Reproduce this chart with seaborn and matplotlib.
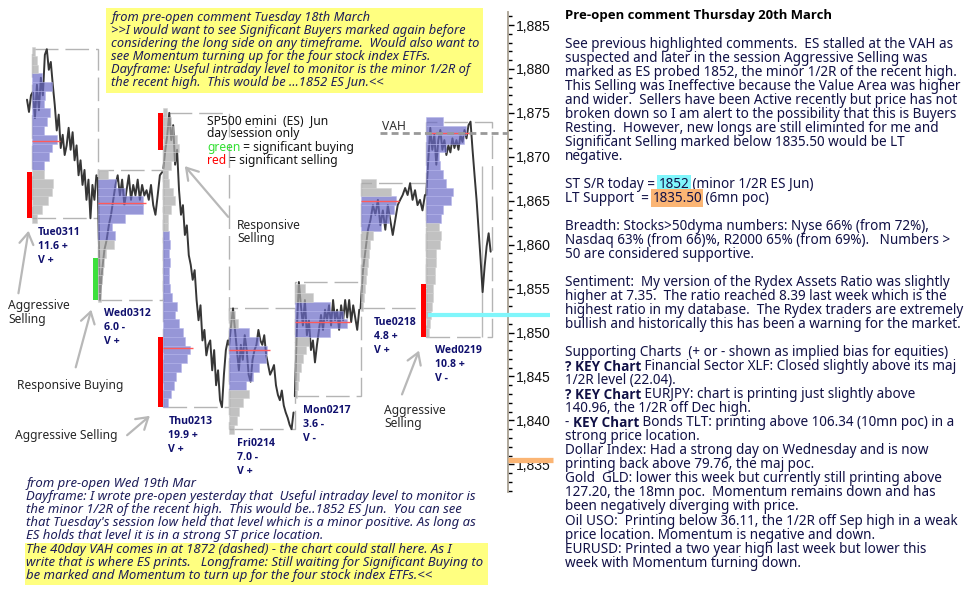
import numpy as np
import pandas as pd
import matplotlib
matplotlib.use("Agg")
import matplotlib.pyplot as plt
import seaborn as sns
from matplotlib import font_manager as fm
from matplotlib.font_manager import FontProperties
from matplotlib.patches import Rectangle, FancyArrowPatch
from matplotlib.ticker import MultipleLocator, FuncFormatter

# ---------------------------------------------------------------- data
days = ["Tue0311", "Wed0312", "Thu0213", "Fri0214", "Mon0217", "Tue0218", "Wed0219"]
day_range_txt = ["11.6 +", "6.0 -", "19.9 +", "7.0 -", "3.6 -", "4.8 +", "10.8 +"]
day_vol_txt = ["V +", "V +", "V +", "V +", "V -", "V +", "V -"]
day_high = [1882.25, 1868.5, 1875.0, 1852.75, 1855.75, 1867.0, 1874.0]
day_low = [1863.0, 1853.75, 1841.5, 1839.0, 1842.75, 1852.75, 1849.5]
day_poc = [1871.75, 1864.75, 1848.25, 1848.0, 1851.25, 1865.0, 1872.75]
va_high = [1879, 1867, 1861, 1850, 1853, 1865, 1874]
va_low = [1869, 1861, 1842, 1844, 1850, 1862, 1863]
profile_top = [1882, 1868, 1875, 1852, 1855, 1867, 1874]

# volume profile (TPO counts), from the top price bin downwards, 1 pt bins
prof_tue0311 = [3, 5, 6, 10, 20, 13, 12, 18, 15, 12, 25, 20, 17, 12, 12, 21, 20, 16, 10, 5]
prof_wed0312 = [10, 18, 27, 45, 45, 27, 14, 17, 16, 8, 6, 5, 4, 3, 3]
prof_thu0213 = [4, 8, 10, 14, 16, 12, 8, 5, 6, 10, 12, 8, 5, 5, 6, 7, 6, 7, 6, 6,
                7, 9, 14, 12, 16, 20, 22, 27, 24, 18, 13, 11, 8, 5]
prof_fri0214 = [6, 9, 20, 30, 38, 37, 30, 24, 17, 20, 14, 10, 8, 5]
prof_mon0217 = [10, 18, 35, 48, 52, 35, 14, 11, 8, 6, 4, 3, 2]
prof_tue0218 = [15, 30, 35, 33, 28, 20, 12, 9, 8, 7, 6, 5, 4, 3, 2]
prof_wed0219 = [17, 40, 38, 20, 13, 14, 17, 20, 27, 25, 17, 15, 13, 15, 14, 10, 10, 9, 9, 7,
                7, 6, 5, 4, 3]

# intraday ES price path per session (evenly spaced through the session)
tue0311_px = [1876.5, 1875.1, 1877.0, 1877.4, 1874.4, 1878.2, 1875.3, 1879.0, 1877.0, 1881.6,
              1882.25, 1879.9, 1880.8, 1878.2, 1875.9, 1873.0, 1874.8, 1871.0, 1872.5, 1870.2,
              1871.3, 1873.3, 1870.8, 1872.8, 1869.6, 1871.3, 1867.9, 1869.6, 1866.8, 1868.5,
              1865.1, 1867.4, 1863.0, 1866.8, 1865.1, 1867.9]
wed0312_px = [1867.6, 1853.75, 1857.1, 1859.4, 1860.5, 1862.2, 1863.4, 1865.1, 1866.8, 1867.9,
              1865.6, 1867.4, 1864.5, 1866.2, 1867.9, 1865.1, 1866.8, 1865.6, 1867.4, 1865.1,
              1866.8, 1865.6, 1866.2, 1865.1, 1866.8, 1864.5, 1863.4, 1865.6, 1867.9, 1868.25]
thu0213_px = [1868.7, 1870.8, 1872.5, 1875.0, 1871.9, 1873.6, 1869.1, 1870.8, 1866.2, 1863.4,
              1864.5, 1861.1, 1862.2, 1858.8, 1857.7, 1856.0, 1857.1, 1853.7, 1851.4, 1853.1,
              1849.1, 1850.3, 1847.4, 1848.6, 1849.1, 1845.7, 1848.0, 1844.0, 1845.7, 1842.3,
              1841.5, 1845.2, 1848.0, 1849.1]
fri0214_px = [1848.6, 1850.8, 1852.75, 1850.3, 1848.0, 1845.7, 1848.6, 1846.9, 1849.7, 1848.0,
              1845.2, 1844.4, 1846.9, 1848.0, 1848.6, 1850.3, 1849.1, 1848.6, 1849.7, 1847.4,
              1846.3, 1845.2, 1845.7, 1846.3, 1844.0, 1842.9, 1842.3, 1843.4, 1841.7, 1840.9,
              1840.3, 1839.5, 1839.0, 1840.9]
mon0217_px = [1842.75, 1850.3, 1855.75, 1853.1, 1850.8, 1853.7, 1849.7, 1851.4, 1848.0, 1849.1,
              1846.6, 1848.6, 1850.3, 1852.0, 1850.3, 1852.6, 1851.4, 1853.1, 1850.8, 1853.7,
              1851.4, 1852.6, 1850.3, 1853.1, 1851.4, 1853.7, 1851.7, 1853.7, 1851.2, 1853.1,
              1851.7, 1850.3, 1852.6]
tue0218_px = [1852.75, 1857.1, 1859.4, 1861.7, 1862.8, 1864.5, 1863.4, 1865.1, 1862.2, 1863.9,
              1861.7, 1864.5, 1862.8, 1861.1, 1862.8, 1864.5, 1865.1, 1865.65, 1866.45, 1865.65,
              1867.0, 1865.1, 1866.2, 1864.5, 1865.1, 1863.9, 1865.65]
wed0219_px = [1865.65, 1869.6, 1873.3, 1870.8, 1872.5, 1869.1, 1871.9, 1873.05, 1870.8, 1871.9,
              1870.2, 1871.3, 1870.5, 1872.1, 1871.0, 1871.9, 1870.8, 1872.5, 1871.7, 1873.05,
              1872.1, 1873.6, 1874.0, 1870.8, 1867.9, 1865.1, 1861.7, 1858.3, 1854.6, 1857.5,
              1859.8, 1861.3, 1859.2]

# significant buying / selling marks (session index, price range)
sig_day = [0, 1, 2, 2, 6]
sig_low = [1863.0, 1853.75, 1870.75, 1841.5, 1849.5]
sig_high = [1868.25, 1858.5, 1875.0, 1849.5, 1855.5]
sig_side = ["sell", "buy", "sell", "sell", "sell"]

# probe of the last session towards its low (time within session, top price)
wed0219_probe_t = 0.85
wed0219_probe_top = 1869.0

vah_40day = 1872.75
st_sr_level = 1852.0
lt_support = 1835.5
y_ticks = [1835, 1840, 1845, 1850, 1855, 1860, 1865, 1870, 1875, 1880, 1885]

# ---------------------------------------------------------------- fonts
sns.set_theme(style="white")
plt.rcParams["font.family"] = ["DejaVu Sans"]


def has_font(name, style="normal", bold=False):
    for f in fm.fontManager.ttflist:
        if f.name == name and f.style == style:
            w = f.weight if isinstance(f.weight, int) else (700 if "bold" in str(f.weight) else 400)
            if (w >= 600) == bold:
                return True
    return False


SANS = next((n for n in ["Noto Sans", "Open Sans", "DejaVu Sans"] if has_font(n)), "DejaVu Sans")
SANS_B = next((n for n in [SANS, "Noto Sans", "Open Sans", "DejaVu Sans"]
               if has_font(n, bold=True)), "DejaVu Sans")
ITAL = next((n for n in ["Noto Sans", "Open Sans", "Liberation Sans", "DejaVu Sans"]
             if has_font(n, "italic") or has_font(n, "oblique")), "DejaVu Sans")

# ---------------------------------------------------------------- figure
W, H = 976, 597
fig = plt.figure(figsize=(W / 100, H / 100), dpi=100)
fig.patch.set_facecolor("white")

PXD = 65.71                       # pixels per session on the chart
AX_R, AX_T, AX_B = 508, 12, 492
ax = fig.add_axes([0, 1 - AX_B / H, AX_R / W, (AX_B - AX_T) / H])
x_left = -32 / PXD
ax.set_xlim(x_left, x_left + AX_R / PXD)
ax.set_ylim(1831.85, 1886.48)
ax.set_facecolor("white")

BLUE, BLUE_EDGE = "#6a6ac6", "#b4b4ec"
GRAY, GRAY_EDGE = "#aaaaaa", "#d2d2d2"

# price paths
paths = [tue0311_px, wed0312_px, thu0213_px, fri0214_px, mon0217_px, tue0218_px, wed0219_px]
frames = []
for k, p in enumerate(paths):
    start = -0.076 if k == 0 else 0.0
    t = k + np.linspace(start, 0.98, len(p))
    frames.append(pd.DataFrame({"t": t, "price": p, "day": days[k]}))
price_df = pd.concat(frames, ignore_index=True)
sns.lineplot(data=price_df, x="t", y="price", units="day", estimator=None,
             color="#363636", linewidth=1.4, ax=ax, zorder=2, legend=False)

profiles = [prof_tue0311, prof_wed0312, prof_thu0213, prof_fri0214, prof_mon0217,
            prof_tue0218, prof_wed0219]
for k, vol in enumerate(profiles):
    vol = np.array(vol, dtype=float)
    prices = profile_top[k] - np.arange(len(vol))
    in_va = (prices >= va_low[k]) & (prices <= va_high[k])
    ax.barh(prices[in_va], vol[in_va] / PXD, left=k, height=1.0, color=BLUE,
            alpha=0.7, edgecolor=BLUE_EDGE, linewidth=0.5, zorder=3)
    ax.barh(prices[~in_va], vol[~in_va] / PXD, left=k, height=1.0, color=GRAY,
            alpha=0.72, edgecolor=GRAY_EDGE, linewidth=0.5, zorder=3)
    ax.hlines(day_poc[k], k, k + (vol.max() + 3) / PXD, color="#ff5a5a", linewidth=1.0, zorder=4)
    ax.add_patch(Rectangle((k, day_low[k]), 1.0, day_high[k] - day_low[k], fill=False,
                           edgecolor="#b4b4b4", linewidth=1.0, linestyle=(0, (17, 5)), zorder=1))

ax.vlines(6 + wed0219_probe_t, day_low[6], wed0219_probe_top, color="#b8b8b8",
          linewidth=1.0, zorder=1)

sig_colors = ["#ff0000" if s == "sell" else "#3de03d" for s in sig_side]
ax.bar(sig_day, np.array(sig_high) - np.array(sig_low), bottom=sig_low, width=-5 / PXD,
       align="edge", color=sig_colors, linewidth=0, zorder=4)

# reference levels
ax.plot([5.3, ax.get_xlim()[1]], [vah_40day, vah_40day], color="#999999", linewidth=2,
        linestyle=(0, (2.5, 1.5)), zorder=5)
ax.plot([6.02, (550 - 32) / PXD], [st_sr_level, st_sr_level], color="#80f6fb",
        linewidth=3, solid_capstyle="butt", clip_on=False, zorder=5)
ax.plot([ax.get_xlim()[1], (553 - 32) / PXD], [lt_support, lt_support], color="#fbb574",
        linewidth=3.8, solid_capstyle="butt", clip_on=False, zorder=5)

# axis
ax.set_xticks([])
ax.set_xlabel("")
ax.set_ylabel("")
ax.yaxis.tick_right()
ax.set_yticks(y_ticks)
ax.yaxis.set_minor_locator(MultipleLocator(1))
ax.yaxis.set_major_formatter(FuncFormatter(lambda v, _: f"{v:,.0f}"))
ax.tick_params(axis="y", which="major", direction="out", length=4.5, width=1,
               color="#000000", pad=1, labelcolor="#111111")
ax.tick_params(axis="y", which="minor", direction="out", length=3.2, width=1, color="#000000")
for s in ["top", "left", "bottom"]:
    ax.spines[s].set_visible(False)
ax.spines["right"].set_color("#a8a092")
ax.spines["right"].set_linewidth(1.3)
ax.grid(False)

# ---------------------------------------------------------------- text helpers
renderer = fig.canvas.get_renderer()


def tw(s, fp):
    a = renderer.get_text_width_height_descent(s + "|", fp, ismath=False)[0]
    b = renderer.get_text_width_height_descent("|", fp, ismath=False)[0]
    return a - b


def fit(s, target, family=None, **kw):
    fp = FontProperties(family=family or SANS, size=10, **kw)
    return 10.0 * target / tw(s, fp)


def put(x, y, segs, size, color="#000000", style="normal", weight="normal",
        family=None, zorder=6):
    cx = x
    for seg in segs:
        if isinstance(seg, str):
            seg = (seg, {})
        s, o = seg
        wgt = o.get("weight", weight)
        fam = family or (SANS_B if wgt == "bold" else SANS)
        fp = FontProperties(family=fam, size=size, style=o.get("style", style), weight=wgt)
        kw = {}
        if "bg" in o:
            kw["bbox"] = dict(boxstyle="square,pad=0.1", facecolor=o["bg"], edgecolor="none")
        fig.text(cx / W, 1 - y / H, s, fontproperties=fp, color=o.get("color", color),
                 ha="left", va="center", zorder=zorder, **kw)
        cx += tw(s, fp)


def fig_rect(x0, y0, x1, y1, color):
    fig.patches.append(Rectangle((x0 / W, 1 - y1 / H), (x1 - x0) / W, (y1 - y0) / H,
                                 transform=fig.transFigure, facecolor=color,
                                 edgecolor="none", zorder=2))


fs_tick = fit("1,885", 35, family="Liberation Sans")
for lbl in ax.get_yticklabels():
    lbl.set_fontfamily("Liberation Sans")
    lbl.set_fontsize(fs_tick)

# ---------------------------------------------------------------- right-hand commentary
RIGHT_C = "#111146"
fs_r = fit("See previous highlighted comments.  ES stalled at the VAH as", 388)
fs_title = fit("Pre-open comment Thursday 20th March", 268, family=SANS_B, weight="bold")
put(565, 16, ["Pre-open comment Thursday 20th March"], fs_title, color="#000000",
    weight="bold")

B = {"weight": "bold"}
right_lines = [
    ["See previous highlighted comments.  ES stalled at the VAH as"],
    ["suspected and later in the session Aggressive Selling was"],
    ["marked as ES probed 1852, the minor 1/2R of the recent high."],
    ["This Selling was Ineffective because the Value Area was higher"],
    ["and wider.  Sellers have been Active recently but price has not"],
    ["broken down so I am alert to the possibility that this is Buyers"],
    ["Resting.  However, new longs are still eliminted for me and"],
    ["Significant Selling marked below 1835.50 would be LT"],
    ["negative."],
    [],
    ["ST S/R today = ", ("1852", {"bg": "#80f6fb"}), " (minor 1/2R ES Jun)"],
    ["LT Support  = ", ("1835.50", {"bg": "#fbb574"}), " (6mn poc)"],
    [],
    ["Breadth: Stocks>50dyma numbers: Nyse 66% (from 72%),"],
    ["Nasdaq 63% (from 66)%, R2000 65% (from 69%).   Numbers >"],
    ["50 are considered supportive."],
    [],
    ["Sentiment:  My version of the Rydex Assets Ratio was slightly"],
    ["higher at 7.35.  The ratio reached 8.39 last week which is the"],
    ["highest ratio in my database.  The Rydex traders are extremely"],
    ["bullish and historically this has been a warning for the market."],
    [],
    ["Supporting Charts  (+ or - shown as implied bias for equities)"],
    [("? KEY Chart", B), " Financial Sector XLF: Closed slightly above its maj"],
    ["1/2R level (22.04)."],
    [("? KEY Chart", B), " EURJPY: chart is printing just slightly above"],
    ["140.96, the 1/2R off Dec high."],
    ["- ", ("KEY Chart", B), " Bonds TLT: printing above 106.34 (10mn poc) in a"],
    ["strong price location."],
    ["Dollar Index: Had a strong day on Wednesday and is now"],
    ["printing back above 79.76, the maj poc."],
    ["Gold  GLD: lower this week but currently still printing above"],
    ["127.20, the 18mn poc.  Momentum remains down and has"],
    ["been negatively diverging with price."],
    ["Oil USO:  Printing below 36.11, the 1/2R off Sep high in a weak"],
    ["price location. Momentum is negative and down."],
    ["EURUSD: Printed a two year high last week but lower this"],
    ["week with Momentum turning down."],
]
for i, segs in enumerate(right_lines):
    if segs:
        put(565, 44 + 14.03 * i, segs, fs_r, color=RIGHT_C)

# ---------------------------------------------------------------- italic notes
NOTE_C = "#1e1e5a"
top_note = [
    "from pre-open comment Tuesday 18th March",
    ">>I would want to see Significant Buyers marked again before",
    "considering the long side on any timeframe.  Would also want to",
    "see Momentum turning up for the four stock index ETFs.",
    "Dayframe: Useful intraday level to monitor is the minor 1/2R of",
    "the recent high.  This would be ...1852 ES Jun.<<",
]
bottom_note = [
    "from pre-open Wed 19th Mar",
    "Dayframe: I wrote pre-open yesterday that  Useful intraday level to monitor is",
    "the minor 1/2R of the recent high.  This would be..1852 ES Jun.  You can see",
    "that Tuesday's session low held that level which is a minor positive. As long as",
    "ES holds that level it is in a strong ST price location.",
    "The 40day VAH comes in at 1872 (dashed) - the chart could stall here. As I",
    "write that is where ES prints.   Longframe: Still waiting for Significant Buying to",
    "be marked and Momentum to turn up for the four stock index ETFs.<<",
]
fig_rect(106, 8, 483, 93, "#ffff80")
fig_rect(25, 543, 488, 585, "#ffff80")
fs_top = fit(top_note[2], 367, family=ITAL, style="italic")
fs_bot = fit(bottom_note[1], 450, family=ITAL, style="italic")
for i, s in enumerate(top_note):
    put(111, 17.3 + 13.1 * i, [s], fs_top, color=NOTE_C, style="italic", family=ITAL)
for i, s in enumerate(bottom_note):
    put(26, 483.5 + 13.1 * i, [s], fs_bot, color=NOTE_C, style="italic", family=ITAL)

# ---------------------------------------------------------------- chart labels
fs_leg = fit("green = significant buying", 148)
put(207, 120.5, ["SP500 emini  (ES)  Jun"], fs_leg, color="#141414")
put(207, 134, ["day session only"], fs_leg, color="#141414")
put(207, 147.3, [("green", {"color": "#33e033"}), " = significant buying"], fs_leg,
    color="#141414")
put(207, 160.5, [("red", {"color": "#ff0000"}), " = significant selling"], fs_leg,
    color="#141414")
put(382, 126, ["VAH"], fs_leg, color="#303030")

fs_day = fit("Wed0219", 47, family=SANS_B, weight="bold")
label_dx = [6, 6, 5, 8, 8, 13, 9]
for k in range(len(days)):
    for j, s in enumerate([days[k], day_range_txt[k], day_vol_txt[k]]):
        ax.annotate(s, xy=(k, day_low[k]), xytext=(label_dx[k] * 0.72, -(14 + 14 * j) * 0.72),
                    textcoords="offset points", ha="left", va="center",
                    fontsize=fs_day, fontweight="bold", fontfamily=SANS_B, color="#10106e",
                    annotation_clip=False, zorder=6)

fs_ann = fit("Responsive Buying", 107)
ANN_C = "#262626"
put(237, 225, ["Responsive"], fs_ann, color=ANN_C)
put(237, 238.5, ["Selling"], fs_ann, color=ANN_C)
put(8, 306, ["Aggressive"], fs_ann, color=ANN_C)
put(8, 319.5, ["Selling"], fs_ann, color=ANN_C)
put(17, 385, ["Responsive Buying"], fs_ann, color=ANN_C)
put(15, 436, ["Aggressive Selling"], fs_ann, color=ANN_C)
put(384, 410.5, ["Aggressive"], fs_ann, color=ANN_C)
put(384, 423.5, ["Selling"], fs_ann, color=ANN_C)

arrows = [((230, 219), (183, 164)), ((18, 296), (29, 228)), ((75, 370), (92, 307)),
          ((125, 437), (152, 414)), ((401, 397), (420, 348))]
for (tx, ty), (hx, hy) in arrows:
    fig.add_artist(FancyArrowPatch(
        (tx / W, 1 - ty / H), (hx / W, 1 - hy / H), transform=fig.transFigure,
        arrowstyle="->,head_length=0.45,head_width=0.28", mutation_scale=18,
        color="#b8b8b8", linewidth=1.6, zorder=5))

fig.savefig("out.png", dpi=100, facecolor="white")
